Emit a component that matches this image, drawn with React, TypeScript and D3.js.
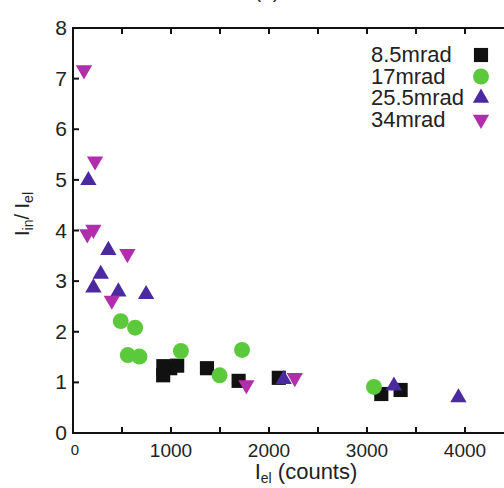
import React from "react";
import * as d3 from "d3";

// 8.5 mrad
const sqX = [920, 922, 992, 1063, 1367, 1690, 2100, 3146, 3343];
const sqY = [1.14, 1.32, 1.28, 1.33, 1.28, 1.03, 1.09, 0.77, 0.85];
// 17 mrad
const ciX = [487, 634, 559, 678, 1101, 1496, 1725, 3071];
const ciY = [2.21, 2.08, 1.54, 1.51, 1.62, 1.14, 1.64, 0.91];
// 25.5 mrad
const upX = [157, 361, 283, 208, 463, 746, 2150, 3275, 3933];
const upY = [4.99, 3.61, 3.14, 2.87, 2.79, 2.74, 1.06, 0.93, 0.7];
// 34 mrad
const dnX = [112, 225, 146, 208, 555, 396, 1769, 2263];
const dnY = [7.17, 5.37, 3.93, 4.02, 3.54, 2.62, 0.95, 1.09];

const xTicks = [0, 1000, 2000, 3000, 4000];
const xMinor = [500, 1500, 2500, 3500, 4500];
const yTicks = [0, 1, 2, 3, 4, 5, 6, 7, 8];
const legendLabels = ["8.5mrad", "17mrad", "25.5mrad", "34mrad"];

const colors = ["#111111", "#5cc93c", "#4a2a9e", "#b22cae"];

const font = "Liberation Sans, Arial, sans-serif";

export default function App() {
  const W = 504;
  const H = 488;
  const x = d3.scaleLinear().domain([0, 4500]).range([73, 514]);
  const y = d3.scaleLinear().domain([0, 8]).range([433, 28]);

  const square = d3.symbol(d3.symbolSquare, 200)()!;
  const circle = d3.symbol(d3.symbolCircle, 200)()!;
  const tri = d3.symbol(d3.symbolTriangle, 115)()!;

  const series = [
    { xs: sqX, ys: sqY, path: square, rot: 0 },
    { xs: ciX, ys: ciY, path: circle, rot: 0 },
    { xs: upX, ys: upY, path: tri, rot: 0 },
    { xs: dnX, ys: dnY, path: tri, rot: 180 },
  ];

  const allX = [...xTicks, ...xMinor];

  return (
    <svg
      width={W}
      height={H}
      style={{ position: "absolute", left: 0, top: 0, background: "#fff" }}
      fontFamily={font}
    >
      <text x={267} y={-2} textAnchor="middle" fontSize={21} fill="#333">
        (a)
      </text>

      {/* frame */}
      <rect
        x={x(0)}
        y={y(8)}
        width={x(4500) - x(0)}
        height={y(0) - y(8)}
        fill="none"
        stroke="#111"
        strokeWidth={2}
      />

      {/* x ticks bottom + top */}
      {allX.map((t) => (
        <g key={"xt" + t}>
          <line x1={x(t)} x2={x(t)} y1={y(0)} y2={y(0) - 6} stroke="#111" strokeWidth={2} />
          <line x1={x(t)} x2={x(t)} y1={y(8)} y2={y(8) + 6} stroke="#111" strokeWidth={2} />
        </g>
      ))}
      {xTicks.map((t) => (
        <text
          key={"xl" + t}
          x={x(t) + (t === 0 ? 2 : 0)}
          y={t === 0 ? 455 : 457}
          textAnchor="middle"
          fontSize={t === 0 ? 15 : 19}
          fill="#222"
        >
          {t}
        </text>
      ))}

      {/* y ticks */}
      {yTicks.map((t) => (
        <g key={"yt" + t}>
          <line x1={x(0)} x2={x(0) + 6} y1={y(t)} y2={y(t)} stroke="#111" strokeWidth={2} />
          <text x={67} y={y(t) + 7} textAnchor="end" fontSize={21} fill="#222">
            {t}
          </text>
        </g>
      ))}

      {/* axis titles */}
      <text x={306} y={479} textAnchor="middle" fontSize={22} fill="#222">
        I
        <tspan fontSize={14} dy={4}>el</tspan>
        <tspan dy={-4}> (counts)</tspan>
      </text>
      <text
        transform="translate(29,214) rotate(-90)"
        textAnchor="middle"
        fontSize={20}
        fill="#222"
      >
        I
        <tspan fontSize={14} dy={4}>in</tspan>
        <tspan dy={-4}>/ I</tspan>
        <tspan fontSize={14} dy={4}>el</tspan>
      </text>

      {/* data */}
      {series.map((s, si) =>
        s.xs.map((v, i) => (
          <path
            key={si + "-" + i}
            d={s.path}
            transform={`translate(${x(v)},${y(s.ys[i])}) rotate(${s.rot})`}
            fill={colors[si]}
          />
        ))
      )}

      {/* legend */}
      {legendLabels.map((lab, i) => (
        <g key={lab}>
          <text x={371} y={62 + i * 21.5} textAnchor="start" fontSize={22} fill="#222">
            {lab}
          </text>
          <path
            d={series[i].path}
            transform={`translate(481,${55 + i * 21.5}) rotate(${series[i].rot})`}
            fill={colors[i]}
          />
        </g>
      ))}
    </svg>
  );
}
